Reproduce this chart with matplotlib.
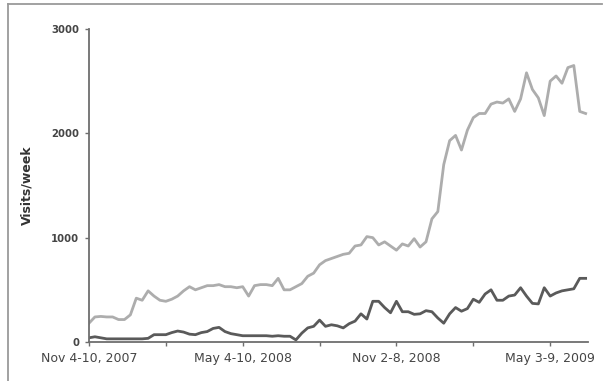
"""
==== Weekly visits chart
======== Two series of visits per week, Nov 2007 - May 2009
"""

# IMPORT MODULES ====================================================

import numpy as np
import matplotlib
matplotlib.use('Agg')
import matplotlib.pyplot as plt
from matplotlib.lines import Line2D

# =====================================================================

# DATA ================================================================
# one value per week

total_visits = [180, 240, 245, 240, 240, 215, 215, 260, 420, 400,
                490, 440, 400, 390, 410, 440, 490, 530, 500, 520,
                540, 540, 550, 530, 530, 520, 530, 440, 540, 550,
                550, 540, 610, 500, 500, 530, 560, 630, 660, 740,
                780, 800, 820, 840, 850, 920, 930, 1010, 1000, 930,
                960, 920, 880, 940, 920, 990, 910, 960, 1180, 1250,
                1700, 1930, 1980, 1840, 2030, 2150, 2190, 2190, 2280, 2300,
                2290, 2330, 2210, 2330, 2580, 2420, 2340, 2170, 2500, 2550,
                2480, 2630, 2650, 2210, 2190]

other_visits = [40, 50, 40, 30, 30, 30, 30, 30, 30, 30,
                35, 70, 70, 70, 90, 105, 95, 75, 70, 90,
                100, 130, 140, 100, 80, 70, 60, 60, 60, 60,
                60, 55, 60, 55, 55, 20, 85, 135, 150, 210,
                150, 165, 155, 135, 175, 200, 270, 220, 390, 390,
                330, 280, 390, 290, 290, 265, 270, 300, 290, 230,
                180, 270, 330, 295, 320, 410, 380, 460, 500, 400,
                400, 440, 450, 520, 440, 370, 365, 520, 440, 470,
                490, 500, 510, 610, 610]

tick_weeks = [0, 13, 26, 39, 52, 65, 78]
tick_labels = ['Nov 4-10, 2007', '', 'May 4-10, 2008', '',
               'Nov 2-8, 2008', '', 'May 3-9, 2009']
y_ticks = [0, 1000, 2000, 3000]

# =====================================================================

# COLOURS =============================================================

LIGHT = '#adadad'
DARK = '#5a5a5a'
AXIS = '#6e6e6e'
TEXT = '#454545'

# =====================================================================


# GENERATES THE PLOT ==================================================

def plotting():
    fig = plt.figure(figsize=(6.07, 3.81), dpi=100)
    ax = fig.add_axes([0.1466, 0.1024, 0.8221, 0.8215])

    weeks = np.arange(len(total_visits))
    ax.plot(weeks, total_visits, color=LIGHT, lw=2.0, solid_joinstyle='round')
    ax.plot(weeks, other_visits, color=DARK, lw=2.0, solid_joinstyle='round')

    ax.set_xlim(0, 84.4)
    ax.set_ylim(0, 3000)

    ax.set_xticks(tick_weeks)
    ax.set_xticklabels(tick_labels, fontsize=9, color=TEXT)
    ax.set_yticks(y_ticks)
    ax.set_yticklabels([str(v) for v in y_ticks], fontsize=7.3,
                       fontweight='bold', color=TEXT)
    ax.tick_params(axis='x', length=3, width=1, color=AXIS, pad=4)
    ax.tick_params(axis='y', length=3, width=1, color=AXIS, pad=4)

    ax.set_ylabel('Visits/week', fontsize=9, fontweight='bold', color='#333333',
                  labelpad=13)

    for side in ['top', 'right']:
        ax.spines[side].set_visible(False)
    for side in ['left', 'bottom']:
        ax.spines[side].set_color(AXIS)
        ax.spines[side].set_linewidth(1.3)

    # outer frame (left and top edge of the original box)
    fig.add_artist(Line2D([0.0132, 0.0132], [0.0, 0.9895], color='#9a9a9a', lw=1.3))
    fig.add_artist(Line2D([0.0132, 0.992], [0.9895, 0.9895], color='#9a9a9a', lw=1.3))

    fig.savefig('out.png', dpi=100)

# ====================================================================
# MAIN FUNCTION to RUN PROGRAM  ======================================

if __name__ == '__main__':
    plotting()
# ====================================================================
